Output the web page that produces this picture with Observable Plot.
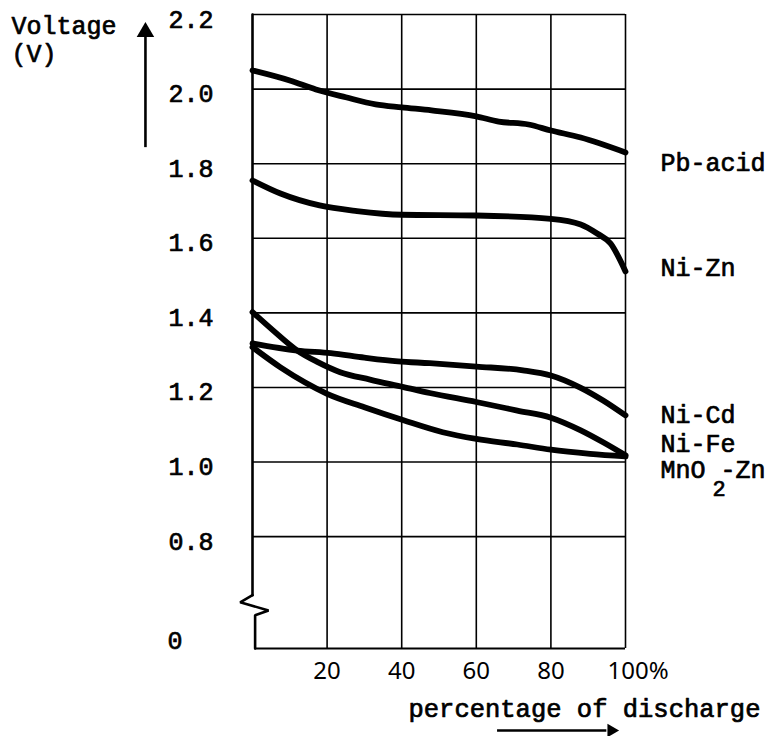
<!DOCTYPE html>
<html><head><meta charset="utf-8">
<script src="https://cdn.jsdelivr.net/npm/d3@7"></script>
<script src="https://cdn.jsdelivr.net/npm/@observablehq/plot@0.6"></script>
<style>html,body{margin:0;padding:0;background:#fff;}</style>
</head><body><div id="chart"></div>
<script>
// Discharge curves: [percentage of discharge, voltage]
const pbAcid = [[0,2.050],[10,2.023],[17,1.999],[25,1.978],[33,1.959],[40,1.951],[48,1.943],[60,1.927],[66,1.913],[74,1.905],[80,1.889],[88,1.870],[100,1.830]];
const niZn = [[0,1.755],[7.5,1.720],[18,1.688],[28,1.673],[40,1.663],[60,1.661],[80,1.652],[88,1.637],[92.5,1.612],[96,1.586],[100,1.511]];
const niCd = [[0,1.318],[12,1.299],[21,1.292],[30,1.280],[39,1.270],[47.5,1.265],[60,1.256],[72.5,1.246],[80,1.232],[88,1.199],[94,1.165],[100,1.125]];
const niFe = [[0,1.402],[5.5,1.353],[12,1.299],[17.5,1.268],[23.5,1.241],[31.5,1.221],[40.5,1.201],[47.5,1.185],[60,1.161],[71,1.138],[80,1.119],[88,1.085],[94,1.053],[100,1.018]];
const mnO2Zn = [[0,1.308],[7.5,1.254],[14,1.214],[20,1.183],[30,1.147],[40.5,1.112],[51,1.080],[60,1.062],[71,1.047],[80,1.033],[90.5,1.022],[100,1.015]];

const seriesNames = ["Pb-acid","Ni-Zn","Ni-Cd","Ni-Fe","MnO2-Zn"];
const seriesLabels = ["Pb-acid","Ni-Zn","Ni-Cd","Ni-Fe","MnO -Zn"];
const seriesData = [pbAcid, niZn, niCd, niFe, mnO2Zn];
const labelOffsets = [11, -3, 0, -11, 14];

const yTicks = [0.8,1.0,1.2,1.4,1.6,1.8,2.0,2.2];
const yBottom = 0.5;          // axis break: bottom line labelled "0"
const yBottomLabel = "0";
const xGridVals = [20,40,60,80,100];
const xTickVals = [20,40,60,80];
const xTickLabels = ["20","40","60","80"];
const xLastLabel = "100%";
const yTitle = ["Voltage","(V)"];
const xTitle = "percentage of discharge";

// decorations: axis break zig-zag
const leftAxisTop = [[0,2.2],[0,0.643]];
const leftAxisBreak = [[0,0.643],[-3.3,0.624],[4.3,0.602],[0.7,0.589],[0.7,0.5]];

const rows = seriesNames.flatMap((name, i) => seriesData[i].map(([x, v]) => ({name, x, v})));
const ends = seriesNames.map((name, i) => ({name, label: seriesLabels[i], dy: labelOffsets[i], x: 100, v: seriesData[i][seriesData[i].length - 1][1]}));

const mono = "'Liberation Mono', 'Courier New', monospace";
const fs = 25;
const T = {fontFamily: mono, fontSize: fs, fill: "#000", stroke: "#000", strokeWidth: 0.7, lineAnchor: "middle"};

const chart = Plot.plot({
  width: 773, height: 736,
  marginLeft: 252, marginRight: 148, marginTop: 14, marginBottom: 88,
  x: {domain: [0, 100], axis: null},
  y: {domain: [0.5, 2.2], axis: null},
  style: {background: "#fff", overflow: "visible"},
  marks: [
    Plot.ruleY(yTicks, {x1: 0, x2: 100, stroke: "#000", strokeWidth: 1.6}),
    Plot.ruleX(xGridVals, {y1: yBottom, y2: 2.2, stroke: "#000", strokeWidth: 1.6}),
    Plot.ruleY([yBottom], {x1: 0.7, x2: 100, stroke: "#000", strokeWidth: 2.2}),
    Plot.line(leftAxisTop, {x: d => d[0], y: d => d[1], stroke: "#000", strokeWidth: 2.6}),
    Plot.line(leftAxisBreak, {x: d => d[0], y: d => d[1], stroke: "#000", strokeWidth: 2.6, strokeLinejoin: "miter"}),
    Plot.line(rows, {x: "x", y: "v", z: "name", curve: "monotone-x", stroke: "#000", strokeWidth: 5.8}),
    // y tick labels
    Plot.text(yTicks, {...T, y: d => d, text: d => d.toFixed(1), frameAnchor: "left", dx: -84, dy: 5, textAnchor: "start"}),
    Plot.text([yBottom], {...T, y: d => d, text: () => yBottomLabel, frameAnchor: "left", dx: -85, dy: -8, textAnchor: "start"}),
    // x tick labels
    Plot.text(xTickVals, {x: d => d, text: (d, i) => xTickLabels[i], frameAnchor: "bottom", lineAnchor: "middle", dy: 23, fontFamily: "Noto Sans", fontSize: 24, fill: "#000"}),
    Plot.text([100], {x: d => d, text: () => xLastLabel, frameAnchor: "bottom", lineAnchor: "middle", dy: 23, dx: -18, textAnchor: "start", fontFamily: "Noto Sans", fontSize: 24, fill: "#000"}),
    // series labels
    ...ends.map(e => Plot.text([e], {...T, x: "x", y: "v", text: "label", dx: 35, dy: e.dy, textAnchor: "start"})),
    Plot.text([ends[4]], {...T, x: "x", y: "v", text: () => "2", dx: 35 + 52, dy: ends[4].dy + 19, textAnchor: "start", fontSize: 22}),
    // y title and arrow
    Plot.text([yTitle[0]], {...T, frameAnchor: "top-left", dx: -241, dy: 11, textAnchor: "start"}),
    Plot.text([yTitle[1]], {...T, frameAnchor: "top-left", dx: -241, dy: 39, textAnchor: "start"}),
    Plot.ruleX([-28.7], {y1: 1.843, y2: 2.14, stroke: "#000", strokeWidth: 2.6}),
    Plot.dot([[-28.7, 2.153]], {x: d => d[0], y: d => d[1], symbol: "triangle", r: 6.5, fill: "#000", stroke: "none"}),
    // x title and arrow
    Plot.text([xTitle], {...T, frameAnchor: "bottom-right", dx: -217, dy: 60, textAnchor: "start", fontSize: 25.5}),
    Plot.ruleY([0.28], {x1: 65.7, x2: 95, stroke: "#000", strokeWidth: 2.6}),
    Plot.dot([[96.2, 0.28]], {x: d => d[0], y: d => d[1], symbol: "triangle", rotate: 90, r: 5, fill: "#000", stroke: "none"}),
  ]
});
document.getElementById("chart").appendChild(chart);
</script>
</body></html>
